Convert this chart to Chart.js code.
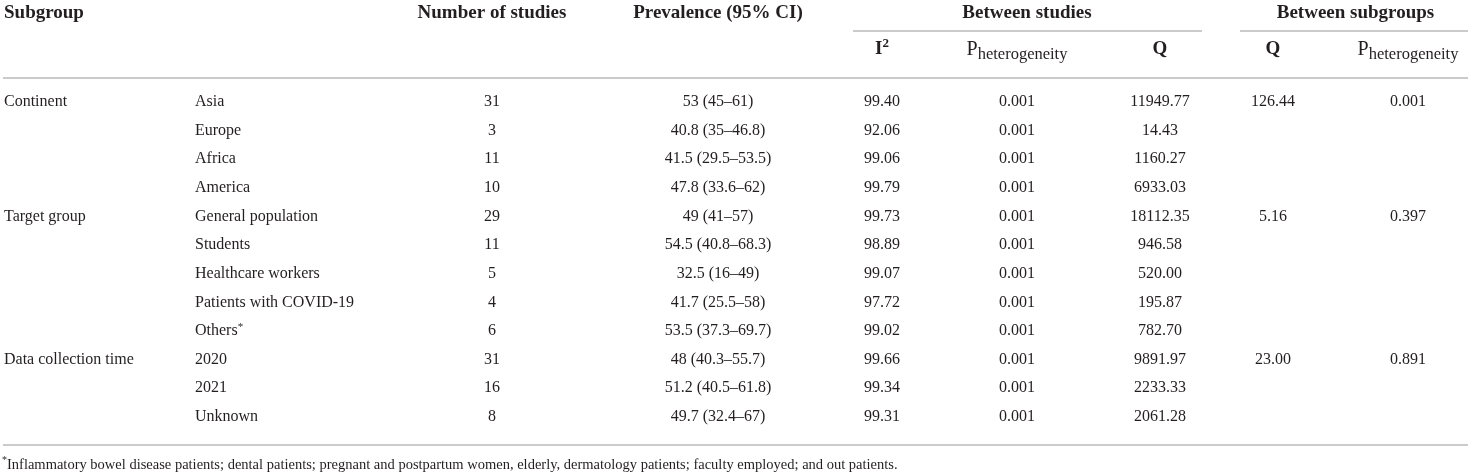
<!DOCTYPE html>
<html>
<head>
<meta charset="utf-8">
<script src="https://cdn.jsdelivr.net/npm/chart.js@4.4.1/dist/chart.umd.min.js"></script>
<style>
  html, body { margin: 0; padding: 0; background: #fff; }
  #wrap { width: 1471px; height: 475px; position: relative; }
</style>
</head>
<body>
<div id="wrap"><canvas id="table-chart"></canvas></div>
<script>
// table values, one array per column
const groups = ["Continent", "", "", "", "Target group", "", "", "", "", "Data collection time", "", ""];
const subgroups = ["Asia", "Europe", "Africa", "America", "General population", "Students", "Healthcare workers", "Patients with COVID-19", "Others*", "2020", "2021", "Unknown"];
const studies = [31, 3, 11, 10, 29, 11, 5, 4, 6, 31, 16, 8];
const prevalence = ["53 (45–61)", "40.8 (35–46.8)", "41.5 (29.5–53.5)", "47.8 (33.6–62)", "49 (41–57)", "54.5 (40.8–68.3)", "32.5 (16–49)", "41.7 (25.5–58)", "53.5 (37.3–69.7)", "48 (40.3–55.7)", "51.2 (40.5–61.8)", "49.7 (32.4–67)"];
const iSquared = ["99.40", "92.06", "99.06", "99.79", "99.73", "98.89", "99.07", "97.72", "99.02", "99.66", "99.34", "99.31"];
const pStudies = ["0.001", "0.001", "0.001", "0.001", "0.001", "0.001", "0.001", "0.001", "0.001", "0.001", "0.001", "0.001"];
const qStudies = ["11949.77", "14.43", "1160.27", "6933.03", "18112.35", "946.58", "520.00", "195.87", "782.70", "9891.97", "2233.33", "2061.28"];
const qSubgroups = ["126.44", "", "", "", "5.16", "", "", "", "", "23.00", "", ""];
const pSubgroups = ["0.001", "", "", "", "0.397", "", "", "", "", "0.891", "", ""];
const footnote = "Inflammatory bowel disease patients; dental patients; pregnant and postpartum women, elderly, dermatology patients; faculty employed; and out patients.";

// layout
const SERIF = '"Liberation Serif", "Times New Roman", serif';
const INK = "#231f20";
const RULE = "#cbcbcb";
const colX = { group: 4, sub: 195, studies: 492, prev: 718, i2: 882, pStud: 1017, qStud: 1160, qSub: 1273, pSub: 1408 };
const rowY = { head1: -3.11, underline: -2.48, head2: -1.84, headRule: -0.84, bottomRule: 11.985, note: 12.68 };

function drawText(ctx, text, px, py, font, align) {
  ctx.font = font;
  ctx.textAlign = align || "center";
  ctx.fillText(text, px, py);
}

// text with a raised or lowered tail (I², P_heterogeneity, Others*)
function drawScripted(ctx, base, tail, px, py, baseFont, tailFont, shift, align) {
  ctx.font = baseFont;
  const wb = ctx.measureText(base).width;
  ctx.font = tailFont;
  const wt = ctx.measureText(tail).width;
  let left = px;
  if (align === "center") left = px - (wb + wt) / 2;
  ctx.textAlign = "left";
  ctx.font = baseFont;
  ctx.fillText(base, left, py);
  ctx.font = tailFont;
  ctx.fillText(tail, left + wb, py + shift);
}

const tablePlugin = {
  id: "tablePlugin",
  afterDraw(chart) {
    const { ctx, scales: { x, y } } = chart;
    const X = v => x.getPixelForValue(v);
    const Y = v => y.getPixelForValue(v);
    ctx.save();
    ctx.fillStyle = INK;
    ctx.textBaseline = "middle";

    const headFont = "bold 19px " + SERIF;
    drawText(ctx, "Subgroup", X(colX.group), Y(rowY.head1), headFont, "left");
    drawText(ctx, "Number of studies", X(colX.studies), Y(rowY.head1), headFont);
    drawText(ctx, "Prevalence (95% CI)", X(colX.prev), Y(rowY.head1), headFont);
    drawText(ctx, "Between studies", X((colX.i2 + colX.qStud) / 2 + 6), Y(rowY.head1), headFont);
    drawText(ctx, "Between subgroups", X((colX.qSub + colX.pSub) / 2 + 15), Y(rowY.head1), headFont);

    drawScripted(ctx, "I", "2", X(colX.i2), Y(rowY.head2), headFont, "bold 13px " + SERIF, -6, "center");
    drawScripted(ctx, "P", "heterogeneity", X(colX.pStud), Y(rowY.head2), "20px " + SERIF, "16.5px " + SERIF, 5, "center");
    drawText(ctx, "Q", X(colX.qStud), Y(rowY.head2), headFont);
    drawText(ctx, "Q", X(colX.qSub), Y(rowY.head2), headFont);
    drawScripted(ctx, "P", "heterogeneity", X(colX.pSub), Y(rowY.head2), "20px " + SERIF, "16.5px " + SERIF, 5, "center");

    const bodyFont = "16px " + SERIF;
    subgroups.forEach((name, i) => {
      const py = Y(i);
      if (groups[i]) drawText(ctx, groups[i], X(colX.group), py, bodyFont, "left");
      if (name.endsWith("*")) {
        drawScripted(ctx, name.slice(0, -1), "*", X(colX.sub), py, bodyFont, "11px " + SERIF, -4, "left");
      } else {
        drawText(ctx, name, X(colX.sub), py, bodyFont, "left");
      }
      drawText(ctx, String(studies[i]), X(colX.studies), py, bodyFont);
      drawText(ctx, prevalence[i], X(colX.prev), py, bodyFont);
      drawText(ctx, iSquared[i], X(colX.i2), py, bodyFont);
      drawText(ctx, pStudies[i], X(colX.pStud), py, bodyFont);
      drawText(ctx, qStudies[i], X(colX.qStud), py, bodyFont);
      if (qSubgroups[i]) drawText(ctx, qSubgroups[i], X(colX.qSub), py, bodyFont);
      if (pSubgroups[i]) drawText(ctx, pSubgroups[i], X(colX.pSub), py, bodyFont);
    });

    drawScripted(ctx, "", "*", X(2), Y(rowY.note), "14.5px " + SERIF, "10px " + SERIF, -5, "left");
    drawText(ctx, footnote, X(7), Y(rowY.note), "14.5px " + SERIF, "left");

    // horizontal rules
    ctx.strokeStyle = RULE;
    ctx.lineWidth = 2;
    const rule = (x0, x1, v) => {
      ctx.beginPath();
      ctx.moveTo(X(x0), Y(v));
      ctx.lineTo(X(x1), Y(v));
      ctx.stroke();
    };
    rule(853, 1202, rowY.underline);
    rule(1240, 1468, rowY.underline);
    rule(3, 1468, rowY.headRule);
    rule(3, 1468, rowY.bottomRule);
    ctx.restore();
  }
};

new Chart(document.getElementById("table-chart"), {
  type: "scatter",
  data: { datasets: [] },
  options: {
    responsive: true,
    maintainAspectRatio: false,
    animation: false,
    layout: { padding: 0 },
    plugins: { legend: { display: false }, tooltip: { enabled: false } },
    scales: {
      x: { type: "linear", min: 0, max: 1471, display: false },
      y: { type: "linear", min: -3.564, max: 13.033, reverse: true, display: false }
    }
  },
  plugins: [tablePlugin]
});
</script>
</body>
</html>
